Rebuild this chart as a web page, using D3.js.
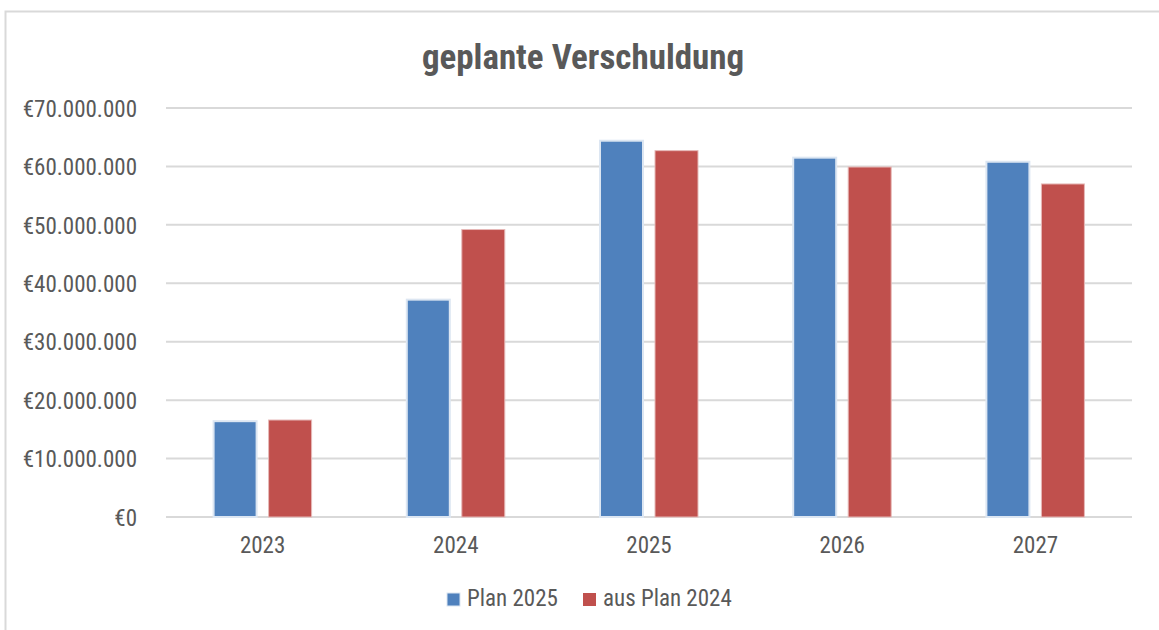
<!DOCTYPE html>
<html>
<head>
<meta charset="utf-8">
<script src="https://cdn.jsdelivr.net/npm/d3@7"></script>
<style>
  html, body { margin: 0; padding: 0; background: #fff; }
  svg text { font-family: "Liberation Sans Narrow", "Roboto Condensed", "Open Sans", sans-serif; fill: #595959; }
</style>
</head>
<body>
<div id="chart"></div>
<script>
// data
var years = ["2023", "2024", "2025", "2026", "2027"];
var plan2025 = [16400000, 37200000, 64400000, 61500000, 60800000];
var ausPlan2024 = [16600000, 49200000, 62700000, 59900000, 57000000];
var seriesNames = ["Plan 2025", "aus Plan 2024"];
var yTicks = [0, 10000000, 20000000, 30000000, 40000000, 50000000, 60000000, 70000000];

var W = 1159, H = 630;
var margin = {left: 166, right: 27, top: 108, bottom: 113};
var colors = ["#4f81bd", "#c0504d"];

var svg = d3.select("#chart").append("svg")
    .attr("width", W).attr("height", H);

// chart area frame (only top/left visible, rest cropped)
svg.append("path")
    .attr("d", "M5.5 " + H + " L5.5 11.5 L" + W + " 11.5")
    .attr("fill", "none").attr("stroke", "#d9d9d9").attr("stroke-width", 2);

var x0 = d3.scaleBand().domain(years)
    .range([margin.left, W - margin.right]).padding(0);
var y = d3.scaleLinear().domain([0, 70000000])
    .range([H - margin.bottom, margin.top]);

var fmt = function(v) {
    return "\u20AC" + d3.format(",")(v).replace(/,/g, ".");
};

// gridlines
svg.append("g").selectAll("line").data(yTicks).enter().append("line")
    .attr("x1", margin.left).attr("x2", W - margin.right)
    .attr("y1", function(d){ return y(d); }).attr("y2", function(d){ return y(d); })
    .attr("stroke", "#d9d9d9").attr("stroke-width", 2);

// y labels
var yAxis = d3.axisLeft(y).tickValues(yTicks).tickFormat(fmt).tickSize(0).tickPadding(29);
var gy = svg.append("g").attr("transform", "translate(" + margin.left + ",0)").call(yAxis);
gy.select(".domain").remove();
gy.selectAll("text").attr("font-size", 23).attr("dy", "0.36em");

// x labels
var xAxis = d3.axisBottom(x0).tickSize(0).tickPadding(20);
var gx = svg.append("g").attr("transform", "translate(0," + (H - margin.bottom) + ")").call(xAxis);
gx.select(".domain").remove();
gx.selectAll("text").attr("font-size", 23);

// bars
var barW = 43, gap = 12;
var rows = years.map(function(yr, i) {
    return {year: yr, vals: [plan2025[i], ausPlan2024[i]]};
});
var groups = svg.append("g").selectAll("g").data(rows).enter().append("g")
    .attr("transform", function(d){ return "translate(" + (x0(d.year) + x0.bandwidth() / 2) + ",0)"; });

groups.selectAll("rect").data(function(d){ return d.vals; }).enter().append("rect")
    .attr("x", function(d, i){ return i == 0 ? -(barW + gap / 2) : gap / 2; })
    .attr("y", function(d){ return y(d); })
    .attr("width", barW)
    .attr("height", function(d){ return y(0) - y(d); })
    .attr("fill", function(d, i){ return colors[i]; })
    .attr("stroke", function(d, i){ return i == 0 ? "#dce6f2" : "#e6b9b8"; })
    .attr("stroke-width", function(d, i){ return i == 0 ? 2 : 1; });

// title
svg.append("text")
    .attr("x", 583).attr("y", 69)
    .attr("text-anchor", "middle")
    .attr("font-size", 35).attr("font-weight", "bold")
    .text("geplante Verschuldung");

// legend
var legendX = [447, 583];
var legend = svg.append("g").selectAll("g").data(seriesNames).enter().append("g")
    .attr("transform", function(d, i){ return "translate(" + legendX[i] + ",593)"; });
legend.append("rect")
    .attr("width", 13).attr("height", 13)
    .attr("fill", function(d, i){ return colors[i]; })
    .attr("stroke", function(d, i){ return i == 0 ? "#dce6f2" : "none"; });
legend.append("text")
    .attr("x", 20).attr("y", 13)
    .attr("font-size", 23)
    .text(function(d){ return d; });
</script>
</body>
</html>
